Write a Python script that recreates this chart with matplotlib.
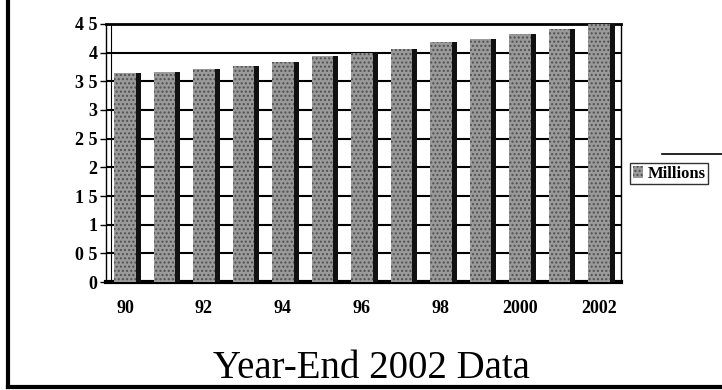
import matplotlib.pyplot as plt
from matplotlib.lines import Line2D

years = ["90", "91", "92", "93", "94", "95", "96", "97", "98", "99", "2000", "2001", "2002"]
millions = [3.64, 3.66, 3.71, 3.76, 3.83, 3.95, 4.00, 4.06, 4.18, 4.23, 4.32, 4.41, 4.50]
shown_years = ["90", "92", "94", "96", "98", "2000", "2002"]
y_ticks = [0, 0.5, 1, 1.5, 2, 2.5, 3, 3.5, 4, 4.5]
y_labels = ["0", "0 5", "1", "1 5", "2", "2 5", "3", "3 5", "4", "4 5"]

serif = ["Liberation Serif", "DejaVu Serif"]

fig = plt.figure(figsize=(7.22, 3.9), dpi=100)
ax = fig.add_axes([0.1468, 0.2769, 0.7133, 0.6616])

x = list(range(len(years)))
# front face (stippled grey) and a dark side for the 3-D look
ax.bar(x, millions, width=0.55, color="#9a9a9a", edgecolor="#505050",
       hatch="....", linewidth=0, zorder=3, label="Millions")
ax.bar([i + 0.34 for i in x], millions, width=0.13, color="#111111",
       linewidth=0, zorder=3)

ax.set_xlim(-0.48, 12.56)
ax.set_ylim(0, 4.5)
ax.set_yticks(y_ticks)
ax.set_yticklabels(y_labels, fontfamily=serif, fontweight="bold", fontsize=13)
ax.set_xticks([years.index(y) for y in shown_years])
ax.set_xticklabels(shown_years, fontfamily=serif, fontweight="bold", fontsize=13)
ax.tick_params(axis="y", length=4, width=1, pad=2)
ax.tick_params(axis="x", length=0, pad=13)
ax.yaxis.grid(True, color="black", linewidth=1.5, zorder=1)
ax.set_axisbelow(True)
for s in ["left", "right", "top"]:
    ax.spines[s].set_linewidth(1)
ax.spines["top"].set_linewidth(2)
ax.spines["bottom"].set_linewidth(3)
ax.axvline(-0.36, color="black", linewidth=0.8, zorder=2)

# legend box
leg = ax.legend(loc="center left", bbox_to_anchor=(1.018, 0.42), frameon=True,
                fancybox=False, edgecolor="black", handlelength=0.6,
                handletextpad=0.3, borderpad=0.15, borderaxespad=0,
                prop={"family": serif, "weight": "bold", "size": 12})
leg.get_frame().set_linewidth(1)
fig.add_artist(Line2D([662 / 722, 1.0], [1 - 154 / 390, 1 - 154 / 390],
                      color="black", linewidth=1.2))

fig.text(0.515, 0.03, "Year-End 2002 Data", ha="center", va="baseline",
         fontfamily=serif, fontsize=28)

# outer frame (left and bottom edges)
fig.add_artist(Line2D([8 / 722, 8 / 722], [0.008, 1.0], color="black", linewidth=3))
fig.add_artist(Line2D([8 / 722, 1.0], [0.008, 0.008], color="black", linewidth=3))

fig.savefig("out.png", dpi=100)
